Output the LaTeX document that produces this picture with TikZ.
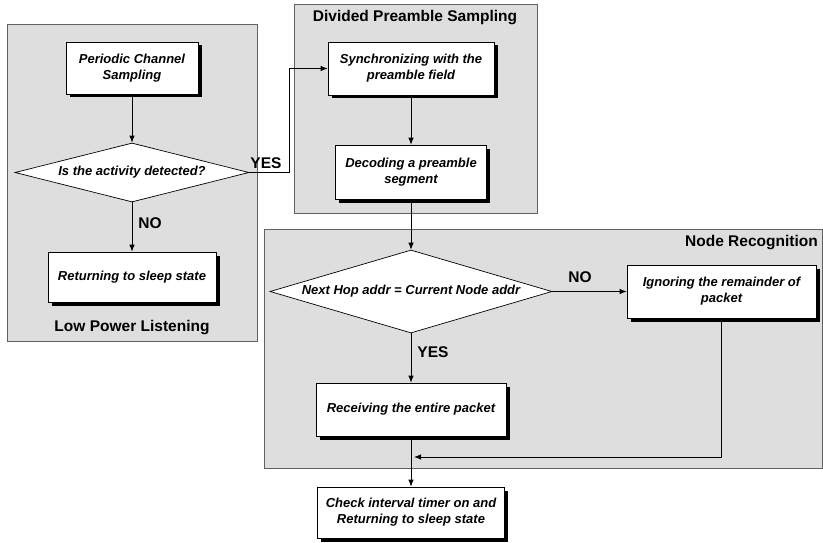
\documentclass[tikz,border=0pt]{standalone}
\usepackage{fontspec}
\setmainfont{Liberation Sans}
\usetikzlibrary{shapes.geometric,arrows.meta,shadows}
\begin{document}
\begin{tikzpicture}[x=1pt,y=-1pt,
  panel/.style={draw=black!62, fill=black!13, line width=1pt, inner sep=0pt},
  proc/.style={draw=black, fill=white, line width=0.7pt, inner sep=2pt, align=center,
    font=\fontsize{13}{16}\selectfont\bfseries\itshape,
    drop shadow={shadow xshift=3.5pt, shadow yshift=-3.5pt, fill=black, opacity=1}},
  decision/.style={diamond, draw=black, fill=white, line width=0.7pt, inner sep=0pt,
    font=\fontsize{13}{16}\selectfont\bfseries\itshape},
  ttl/.style={font=\fontsize{15.5}{18}\selectfont\bfseries, inner sep=0pt},
  lbl/.style={font=\fontsize{15.5}{18}\selectfont\bfseries, inner sep=0pt},
  arr/.style={-{Latex[length=7pt,width=5.5pt]}, line width=0.8pt},
  ln/.style={line width=0.8pt}]
\useasboundingbox (0,0) rectangle (823,543);

% panels
\node[panel, minimum width=250pt, minimum height=316pt] (lpl) at (132,183) {};
\node[panel, minimum width=243pt, minimum height=208pt] (dps) at (415.5,109) {};
\node[panel, minimum width=558pt, minimum height=239pt] (nr) at (543,348.5) {};

\node[ttl] (tlpl) at (132,328) {Low Power Listening};
\node[ttl] (tdps) at (415,18) {Divided Preamble Sampling};
\node[ttl, anchor=east] (tnr) at (818,243) {Node Recognition};

% left column
\node[proc, minimum width=132pt, minimum height=52pt] (pcs) at (132,68) {Periodic Channel\\Sampling};
\node[decision, aspect=4, minimum width=234pt, minimum height=59pt] (d1) at (132,172.5) {Is the activity detected?};
\node[proc, minimum width=168pt, minimum height=50pt] (ret) at (132,277) {Returning to sleep state};

% middle column
\node[proc, minimum width=166pt, minimum height=53pt] (sync) at (411,68.5) {Synchronizing with the\\preamble field};
\node[proc, minimum width=151pt, minimum height=54pt] (dec) at (411,172) {Decoding a preamble\\segment};
\node[decision, aspect=3.4, minimum width=282pt, minimum height=83pt] (d2) at (411,291.5) {Next Hop addr = Current Node addr};
\node[proc, minimum width=190pt, minimum height=53pt] (rec) at (411,409.5) {Receiving the entire packet};
\node[proc, minimum width=187pt, minimum height=51pt] (chk) at (411,512.5) {Check interval timer on and\\Returning to sleep state};
\node[proc, minimum width=189pt, minimum height=53pt] (ign) at (721.5,291.5) {Ignoring the remainder of\\packet};

\coordinate (j) at (414,457);

% labels
\node[lbl] (yes1) at (266,163) {YES};
\node[lbl] (no1) at (150,223) {NO};
\node[lbl] (no2) at (580,277) {NO};
\node[lbl] (yes2) at (433,352) {YES};

% connectors
\draw[arr] (pcs.south) -- (d1.north);
\draw[arr] (d1.south) -- (ret.north);
\draw[arr] (d1.east) -- ++(40,0) |- (sync.west);
\draw[arr] (sync.south) -- (dec.north);
\draw[arr] (dec.south) -- (d2.north);
\draw[arr] (d2.east) -- (ign.west);
\draw[arr] (d2.south) -- (rec.north);
\draw[arr] (rec.south) -- (chk.north);
\draw[arr] (ign.south) |- (j);
\end{tikzpicture}
\end{document}
